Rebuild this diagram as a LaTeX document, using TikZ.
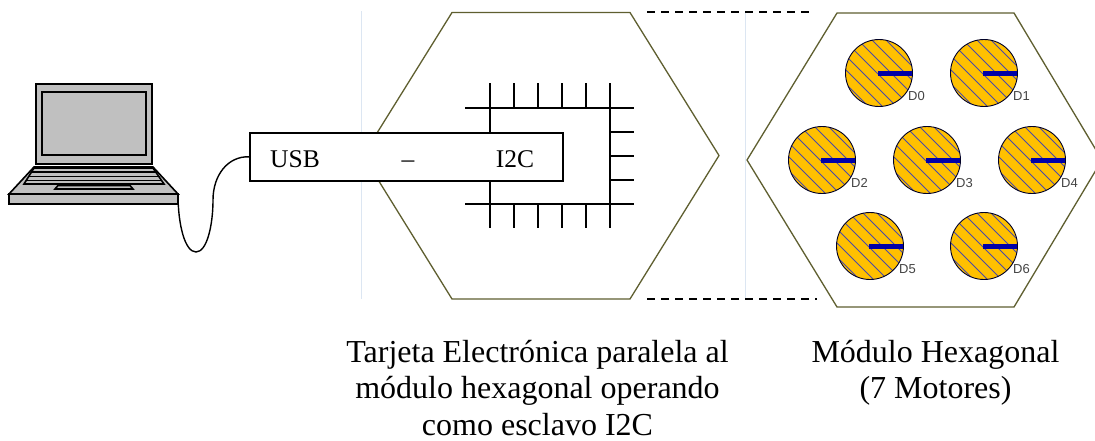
\documentclass[tikz,border=0pt]{standalone}
\usepackage{fontspec}
\setmainfont{Liberation Serif}
\newfontfamily\labfont{Liberation Sans}
\definecolor{lapgray}{HTML}{C0C0C0}
\definecolor{hexline}{HTML}{5F5F30}
\definecolor{faint}{HTML}{DCE6F2}
\definecolor{motor}{HTML}{FFC000}
\definecolor{hatch}{HTML}{4A4AA8}
\definecolor{bar}{HTML}{0000A8}
\definecolor{lab}{HTML}{444444}
\tikzset{
  lap/.style={draw=black,line width=1.6pt,fill=lapgray,line join=miter},
  chipline/.style={draw=black,line width=1.7pt},
  hexside/.style={draw=hexline,line width=1.3pt,line join=round},
  txt/.style={font=\fontsize{25.5}{30}\selectfont,inner sep=0pt},
  captext/.style={font=\fontsize{32}{36.5}\selectfont,inner sep=0pt,anchor=base},
  dlab/.style={font=\labfont\fontsize{13}{13}\selectfont,text=lab,inner sep=0pt},
}
\newcommand{\motorat}[3]{%
  \coordinate (m#3) at (#1,#2);
  \begin{scope}
    \clip (m#3) circle (33.5);
    \fill[motor] (m#3) circle (33.5);
    \foreach \k in {-8,...,2}{
      \draw[hatch,line width=0.9pt] ([xshift=\k*14,yshift=40]m#3) -- ([xshift=\k*14+80,yshift=-40]m#3);
    }
  \end{scope}
  \draw[black!85!blue,line width=0.9pt] (m#3) circle (33.5);
  \fill[bar] ([xshift=-1,yshift=-2.5]m#3) rectangle ([xshift=33,yshift=2.5]m#3);
  \node[dlab,anchor=west] (d#3) at ([xshift=29,yshift=-23]m#3) {D#3};
}
\begin{document}
\begin{tikzpicture}[x=1pt,y=-1pt]
\useasboundingbox (0,0) rectangle (1095,440);
\fill[white] (0,0) rectangle (1095,440);
% faint frame lines
\draw[faint,line width=1pt] (361,11) -- (361,299);
\draw[faint,line width=1pt] (745,11) -- (745,299);
% hexagons
\draw[hexside,fill=white] (452,12.5) -- (630,12.5) -- (719,155.5) -- (630,299) -- (452,299) -- (363,155.5) -- cycle;
\begin{scope}
\clip (0,0) rectangle (1095,440);
\draw[hexside,fill=white] (837,13) -- (1014,13) -- (1102,160) -- (1014,307) -- (837,307) -- (747,160) -- cycle;
\end{scope}
% dashes
\coordinate (dta) at (647,12); \coordinate (dtb) at (811,12);
\coordinate (dba) at (647,299); \coordinate (dbb) at (817,299);
\draw[black,line width=1.6pt,dash pattern=on 8pt off 6pt] (dta) -- (dtb);
\draw[black,line width=1.6pt,dash pattern=on 8pt off 6pt] (dba) -- (dbb);
% chip
\draw[chipline] (465,108) -- (634,108);
\draw[chipline] (465,204) -- (634,204);
\foreach \x in {490,514,538,562,586}{
  \draw[chipline] (\x,83) -- (\x,108);
  \draw[chipline] (\x,204) -- (\x,228);
}
\draw[chipline] (490,108) -- (490,204);
\draw[chipline] (610,83) -- (610,228);
\foreach \y in {132,156,180}{ \draw[chipline] (610,\y) -- (634,\y); }
% usb box
\node[draw=black,line width=1.6pt,fill=white,minimum width=313pt,minimum height=48pt,inner sep=0pt,anchor=north west] (usb) at (249,132) {};
\node[txt,anchor=base west] (tusb) at (270,167) {USB};
\node[txt,anchor=base] (tdash) at (408,167) {–};
\node[txt,anchor=base] (ti2c) at (515,167) {I2C};
% laptop
\draw[lap] (36,84) rectangle (152,164);
\draw[lap] (42,92) rectangle (146,155);
\draw[lap] (34,167) -- (153,167) -- (178,194) -- (9,194) -- cycle;
\draw[lap] (9,194) rectangle (178,204);
\draw[lap] (34,168) -- (153,168) -- (164,184) -- (24,184) -- cycle;
\draw[black,line width=1.6pt] (31,172) -- (157,172);
\draw[black,line width=1.6pt] (28,176.5) -- (160,176.5);
\draw[black,line width=1.6pt] (26,180.5) -- (162,180.5);
\draw[lap] (58,185.5) -- (130,185.5) -- (133,189) -- (55,189) -- cycle;
% cable
\coordinate (lapport) at (178,194);
\draw[black,line width=1.4pt] (lapport) .. controls (178,225) and (185,252) .. (196,252)
  .. controls (207,252) and (213,225) .. (213,200)
  .. controls (213,175) and (228,156) .. (usb.west);
% motors
\motorat{879}{73}{0}
\motorat{984}{73}{1}
\motorat{822}{160}{2}
\motorat{927}{160}{3}
\motorat{1032}{160}{4}
\motorat{870}{246}{5}
\motorat{984}{246}{6}
% captions
\node[captext] (c1a) at (537.5,362) {Tarjeta Electrónica paralela al};
\node[captext] (c1b) at (537.5,398.5) {módulo hexagonal operando};
\node[captext] (c1c) at (537.5,435) {como esclavo I2C};
\node[captext] (c2a) at (935.5,362) {Módulo Hexagonal};
\node[captext] (c2b) at (935.5,398.5) {(7 Motores)};
\end{tikzpicture}
\end{document}
